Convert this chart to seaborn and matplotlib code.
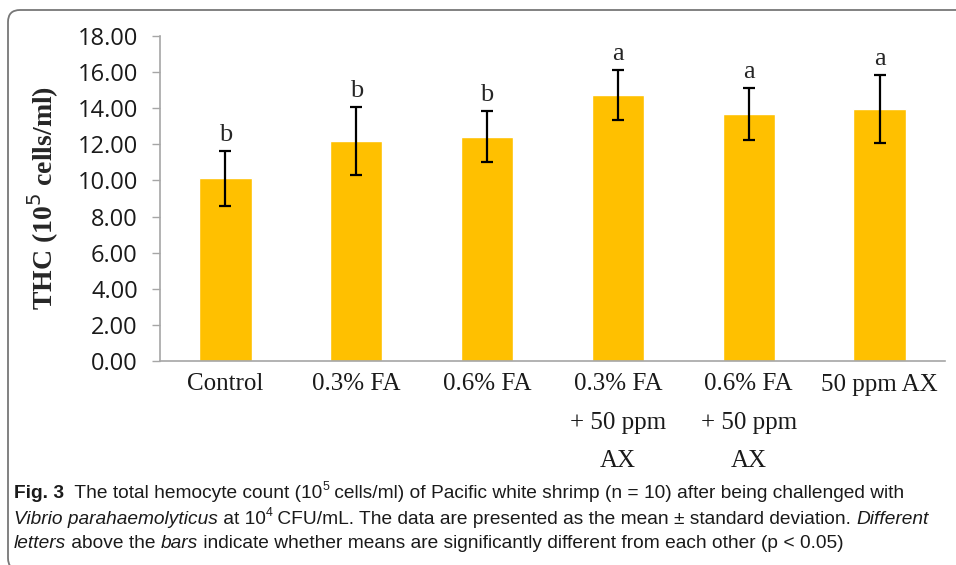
import matplotlib
matplotlib.use('Agg')
import matplotlib.pyplot as plt
import seaborn as sns
import pandas as pd
from matplotlib.path import Path
from matplotlib.patches import PathPatch

# data
groups = ['Control', '0.3% FA', '0.6% FA', '0.3% FA\n+ 50 ppm\nAX', '0.6% FA\n+ 50 ppm\nAX', '50 ppm AX']
thc_mean = [10.12, 12.20, 12.42, 14.73, 13.68, 13.95]
thc_sd = [1.53, 1.88, 1.42, 1.40, 1.44, 1.88]
letters = ['b', 'b', 'b', 'a', 'a', 'a']
y_ticks = [0, 2, 4, 6, 8, 10, 12, 14, 16, 18]

BAR = '#FFC000'
GRID = '#A6A6A6'

sns.set_theme(style='white')
plt.rcParams['font.family'] = ['DejaVu Sans']

df = pd.DataFrame({'group': groups, 'thc': thc_mean})

fig = plt.figure(figsize=(9.56, 5.65), dpi=100)
W, H = 956, 565
ax = fig.add_axes([160 / W, 1 - 361 / H, 785 / W, 325 / H])

sns.barplot(data=df, x='group', y='thc', color=BAR, width=0.4,
            errorbar=None, saturation=1, ax=ax)
ax.errorbar(range(len(groups)), thc_mean, yerr=thc_sd, fmt='none',
            ecolor='black', elinewidth=1.6, capsize=4.5, capthick=1.6)

for i, (m, s, l) in enumerate(zip(thc_mean, thc_sd, letters)):
    ax.text(i, m + s + 0.55, l, ha='center', va='baseline', fontsize=19,
            family='Liberation Serif')

ax.set_ylim(0, 18)
ax.set_xlim(-0.5, len(groups) - 0.5)
ax.set_yticks(y_ticks)
ax.set_yticklabels([f'{v:.2f}' for v in y_ticks], fontsize=17,
                   family=['Open Sans', 'Liberation Sans'], color='#1a1a1a')
ax.set_xticks(range(len(groups)))
ax.set_xticklabels(groups, fontsize=18, family='Liberation Serif',
                   linespacing=1.95, va='top', color='#1a1a1a')
ax.tick_params(axis='y', length=6, width=1, color=GRID, pad=10, left=True)
ax.tick_params(axis='x', length=0, pad=9)
for sp in ['top', 'right']:
    ax.spines[sp].set_visible(False)
for sp in ['left', 'bottom']:
    ax.spines[sp].set_color(GRID)
    ax.spines[sp].set_linewidth(1.2)
ax.set_xlabel('')
ax.set_ylabel(r'THC (10$^{5}$ cells/ml)', fontsize=20,
              fontweight='bold', family='Liberation Serif', labelpad=12)

# frame round the figure: left and top edges with rounded corners
def fx(px):
    return px / W

def fy(py):
    return 1 - py / H

r = 12
xl, yt, yb = 8, 10, 570
verts = [(fx(W + 5), fy(yt)), (fx(xl + r), fy(yt)), (fx(xl), fy(yt)), (fx(xl), fy(yt + r)),
         (fx(xl), fy(yb - r)), (fx(xl), fy(yb)), (fx(xl + r), fy(yb)), (fx(W + 5), fy(yb))]
codes = [Path.MOVETO, Path.LINETO, Path.CURVE3, Path.CURVE3,
         Path.LINETO, Path.CURVE3, Path.CURVE3, Path.LINETO]
fig.patches.append(PathPatch(Path(verts, codes), transform=fig.transFigure,
                             fill=False, edgecolor='#777777', linewidth=1.3))

# caption, written run by run
cap_font = ['Liberation Sans', 'DejaVu Sans']
lines = [
    [('Fig. 3', 'bold', 'normal', 0), ('  The total hemocyte count (10', 'normal', 'normal', 0),
     ('5', 'normal', 'normal', 1), (' cells/ml) of Pacific white shrimp (n = 10) after being challenged with', 'normal', 'normal', 0)],
    [('Vibrio parahaemolyticus', 'normal', 'italic', 0), (' at 10', 'normal', 'normal', 0),
     ('4', 'normal', 'normal', 1), (' CFU/mL. The data are presented as the mean \u00b1 standard deviation. ', 'normal', 'normal', 0),
     ('Different', 'normal', 'italic', 0)],
    [('letters', 'normal', 'italic', 0), (' above the ', 'normal', 'normal', 0), ('bars', 'normal', 'italic', 0),
     (' indicate whether means are significantly different from each other (p < 0.05)', 'normal', 'normal', 0)],
]
line_y = [493, 519, 544]
line_end = [930, 925, 848]
fig.canvas.draw()
renderer = fig.canvas.get_renderer()


def write_line(runs, yl, size, draw=True):
    x = 14
    made = []
    for txt, wt, st, sup in runs:
        s = size * (0.65 if sup else 1)
        yy = yl - (6 if sup else 0)
        t = fig.text(x / W, 1 - yy / H, txt, fontsize=s, fontweight=wt,
                     fontstyle=st, family=cap_font, va='center', ha='left',
                     color='#1a1a1a')
        x += t.get_window_extent(renderer).width
        made.append(t)
    if not draw:
        for t in made:
            t.remove()
    return x


# fit the caption lines to the widths they take in the original
base = 13
scales = []
for runs, yl, xe in zip(lines, line_y, line_end):
    end = write_line(runs, yl, base, draw=False)
    scales.append((xe - 14) / (end - 14))
cap_size = base * min(scales)
for runs, yl in zip(lines, line_y):
    write_line(runs, yl, cap_size)

fig.savefig('out.png', dpi=100)
